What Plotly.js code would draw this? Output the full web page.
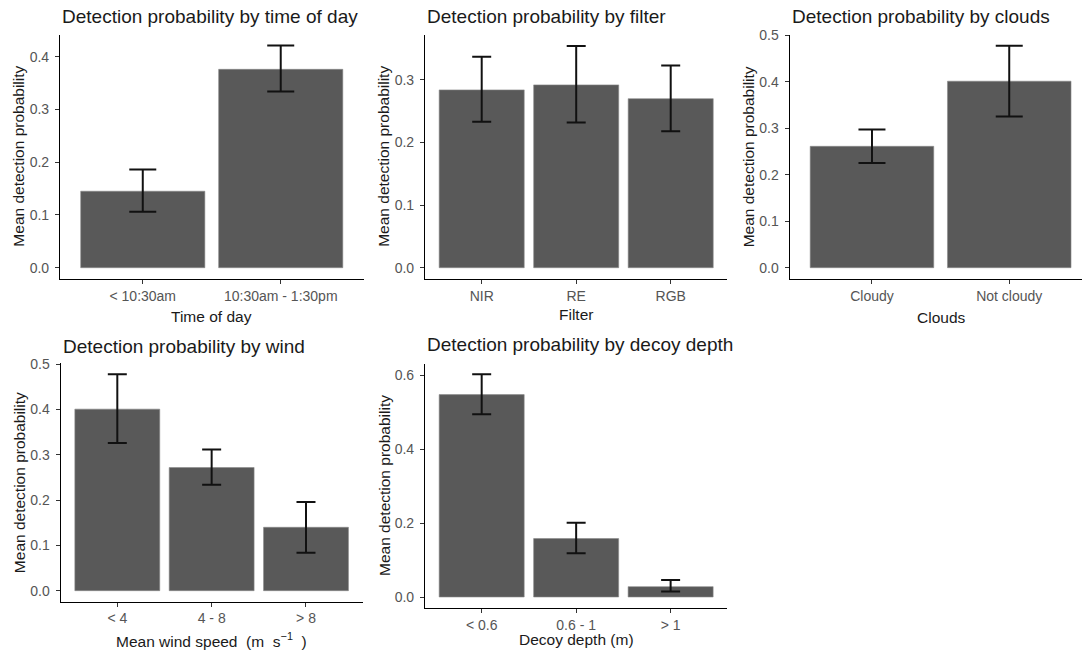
<!DOCTYPE html>
<html>
<head>
<meta charset="utf-8">
<script src="https://cdn.plot.ly/plotly-3.0.1.min.js"></script>
<style>html,body{margin:0;padding:0;background:#fff;}#chart{width:1082px;height:657px;}</style>
</head>
<body>
<div id="chart"></div>
<script>
// ---- data ----
var timeCats = ["< 10:30am", "10:30am - 1:30pm"];
var timeMean = [0.145, 0.376];
var timeLow  = [0.106, 0.334];
var timeHigh = [0.186, 0.421];

var filterCats = ["NIR", "RE", "RGB"];
var filterMean = [0.284, 0.292, 0.270];
var filterLow  = [0.233, 0.232, 0.218];
var filterHigh = [0.337, 0.354, 0.323];

var cloudCats = ["Cloudy", "Not cloudy"];
var cloudMean = [0.261, 0.401];
var cloudLow  = [0.225, 0.325];
var cloudHigh = [0.297, 0.477];

var windCats = ["< 4", "4 - 8", "> 8"];
var windMean = [0.401, 0.272, 0.140];
var windLow  = [0.326, 0.234, 0.084];
var windHigh = [0.478, 0.312, 0.196];

var depthCats = ["< 0.6", "0.6 - 1", "> 1"];
var depthMean = [0.547, 0.158, 0.028];
var depthLow  = [0.494, 0.118, 0.015];
var depthHigh = [0.602, 0.201, 0.046];

var titles = [
  "Detection probability by time of day",
  "Detection probability by filter",
  "Detection probability by clouds",
  "Detection probability by wind",
  "Detection probability by decoy depth"
];
var xTitles = ["Time of day", "Filter", "Clouds",
  "Mean wind speed\u00a0 (m\u00a0 s<sup>\u22121</sup>\u00a0 )", "Decoy depth (m)"];
var yTitle = "Mean detection probability";

// ---- layout geometry (pixels) ----
var W = 1082, H = 657;
function px(x){ return x / W; }
function py(y){ return 1 - y / H; }

var panels = [
  {cats: timeCats, mean: timeMean, lo: timeLow, hi: timeHigh,
   x0: 60, x1: 363.5, yTop: 34.5, yBot: 278.8, yr: [-0.021, 0.442], dtick: 0.1, cap: 13.5,
   rightClip: null, titleY: 16.5, xTitleY: 316},
  {cats: filterCats, mean: filterMean, lo: filterLow, hi: filterHigh,
   x0: 425, x1: 727.4, yTop: 34.8, yBot: 278.8, yr: [-0.0177, 0.372], dtick: 0.1, cap: 9.5,
   titleY: 16.5, xTitleY: 315},
  {cats: cloudCats, mean: cloudMean, lo: cloudLow, hi: cloudHigh,
   x0: 789.6, x1: 1082, yTop: 34.7, yBot: 278.8, yr: [-0.0239, 0.501], dtick: 0.1, cap: 13.5,
   xr: [-0.6, 1.53], titleY: 16.5, xTitleY: 317},
  {cats: windCats, mean: windMean, lo: windLow, hi: windHigh,
   x0: 60.7, x1: 362.6, yTop: 363.4, yBot: 601.5, yr: [-0.0239, 0.502], dtick: 0.1, cap: 9.5,
   titleY: 346, xTitleY: 640},
  {cats: depthCats, mean: depthMean, lo: depthLow, hi: depthHigh,
   x0: 425, x1: 727.3, yTop: 363.9, yBot: 608.1, yr: [-0.030, 0.630], dtick: 0.2, cap: 9.5,
   titleY: 344.5, xTitleY: 639}
];

var traces = [];
var layout = {
  width: W, height: H,
  margin: {l: 0, r: 0, t: 0, b: 0},
  paper_bgcolor: "#ffffff",
  plot_bgcolor: "#ffffff",
  showlegend: false,
  bargap: 0.1,
  font: {family: "Liberation Sans, Arial, sans-serif", color: "#1a1a1a"},
  annotations: []
};

panels.forEach(function(p, i){
  var n = i + 1;
  var xa = n === 1 ? "x" : "x" + n;
  var ya = n === 1 ? "y" : "y" + n;
  var plus = p.hi.map(function(v, k){ return v - p.mean[k]; });
  var minus = p.mean.map(function(v, k){ return v - p.lo[k]; });
  traces.push({
    type: "bar",
    x: p.cats, y: p.mean,
    xaxis: xa, yaxis: ya,
    marker: {color: "#595959", line: {color: "#8a8a8a", width: 0.6}},
    error_y: {type: "data", symmetric: false, array: plus, arrayminus: minus,
      color: "#111111", thickness: 2, width: p.cap},
    hoverinfo: "skip"
  });
  var xr = p.xr || [-0.6, p.cats.length - 0.4];
  layout["xaxis" + (n === 1 ? "" : n)] = {
    domain: [px(p.x0), px(p.x1)],
    anchor: ya,
    type: "category",
    range: xr,
    showline: true, linecolor: "#000000", linewidth: 1.1,
    ticks: "outside", ticklen: 4, tickwidth: 1, tickcolor: "#333333",
    showgrid: false, zeroline: false,
    tickfont: {size: 14, color: "#555555"},
    fixedrange: true
  };
  layout["yaxis" + (n === 1 ? "" : n)] = {
    domain: [py(p.yBot), py(p.yTop)],
    anchor: xa,
    range: p.yr,
    dtick: p.dtick, tick0: 0, tickformat: ".1f",
    showline: true, linecolor: "#000000", linewidth: 1.1,
    ticks: "outside", ticklen: 4, tickwidth: 1, tickcolor: "#333333",
    ticklabelstandoff: 3,
    showgrid: false, zeroline: false,
    tickfont: {size: 14, color: "#555555"},
    fixedrange: true
  };
  // panel title
  layout.annotations.push({
    text: titles[i], xref: "paper", yref: "paper",
    x: px(p.x0), y: py(p.titleY), xanchor: "left", yanchor: "middle",
    showarrow: false, font: {size: 19, color: "#1a1a1a"}
  });
  // x-axis title
  var xMid = (p.x0 + (p.xr ? p.x0 + (p.x1 - p.x0) * 2.2 / (xr[1] - xr[0]) : p.x1)) / 2;
  layout.annotations.push({
    text: xTitles[i], xref: "paper", yref: "paper",
    x: px(xMid), y: py(p.xTitleY), xanchor: "center", yanchor: "middle",
    showarrow: false, font: {size: 15.5, color: "#1a1a1a"}
  });
  // y-axis title
  layout.annotations.push({
    text: yTitle, xref: "paper", yref: "paper", textangle: -90,
    x: px(p.x0 - 41), y: py((p.yTop + p.yBot) / 2), xanchor: "center", yanchor: "middle",
    showarrow: false, font: {size: 15.5, color: "#1a1a1a"}
  });
});

Plotly.newPlot("chart", traces, layout, {displayModeBar: false, staticPlot: true});
</script>
</body>
</html>
